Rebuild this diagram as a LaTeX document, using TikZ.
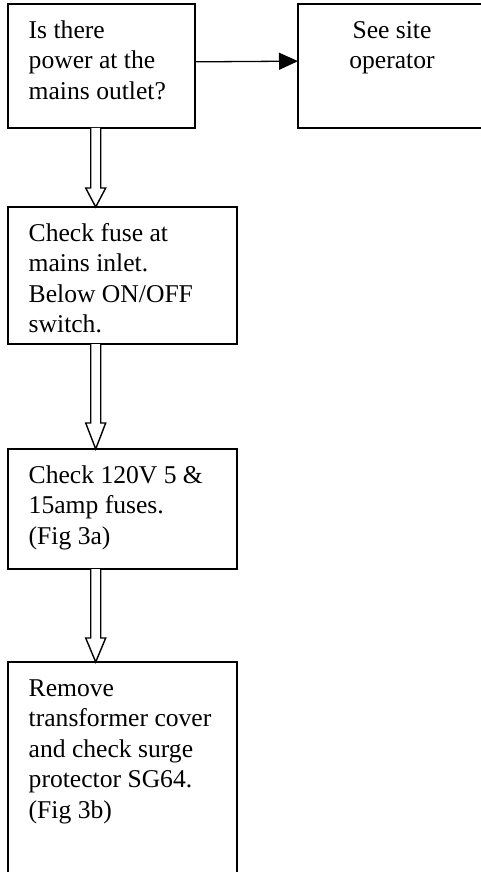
\documentclass[tikz,border=0pt]{standalone}
\usepackage{fontspec}
\setmainfont{Liberation Serif}
\usetikzlibrary{arrows.meta,calc}

\newcommand{\steptext}[3]{\parbox[c][#1][t]{#2}{\rule{0pt}{34pt}#3}}

\begin{document}
\begin{tikzpicture}
  [x=1pt,y=-1pt,
   stepbox/.style={draw,line width=1.8pt,anchor=north west,inner xsep=20.7pt,
     inner ysep=0pt,outer sep=0pt,font=\fontsize{25.6pt}{30.5pt}\selectfont},
   hollow/.style={line width=1.4pt,fill=white}]
  \useasboundingbox (0,0) rectangle (481,872);
  \node[stepbox] (power) at (8,4.3) {\steptext{123.7pt}{145.6pt}{Is there\\ power at the\\ mains outlet?}};
  \node[stepbox] (operator) at (298,4.3) {\steptext{123.7pt}{146.6pt}{\centering See site\\ operator\par}};
  \node[stepbox] (fuse) at (8,207) {\steptext{137pt}{187.6pt}{Check fuse at\\ mains inlet.\\ Below ON/OFF\\ switch.}};
  \node[stepbox] (amp) at (8,449) {\steptext{120pt}{187.6pt}{Check 120V 5 \&\\ 15amp fuses.\\ (Fig 3a)}};
  \node[stepbox] (surge) at (8,662) {\steptext{230pt}{187.6pt}{Remove\\ transformer cover\\ and check surge\\ protector SG64.\\ (Fig 3b)}};

  \draw [line width=1.3pt,-{Triangle[length=19pt,width=17pt]}]
    ([yshift=4.3pt]power.east) -- ([yshift=5pt]operator.west);

  \foreach \from/\to/\len in {power/fuse/19, fuse/amp/26, amp/surge/24}
    \draw [hollow] ($(\from.south west)+(82.7,0)$) -- ($(\to.north west)+(82.7,-\len)$)
      -- ($(\to.north west)+(77.7,-\len)$) -- ($(\to.north west)+(87.7,0)$)
      -- ($(\to.north west)+(97.7,-\len)$) -- ($(\to.north west)+(92.7,-\len)$)
      -- ($(\from.south west)+(92.7,0)$);

\end{tikzpicture}
\end{document}
